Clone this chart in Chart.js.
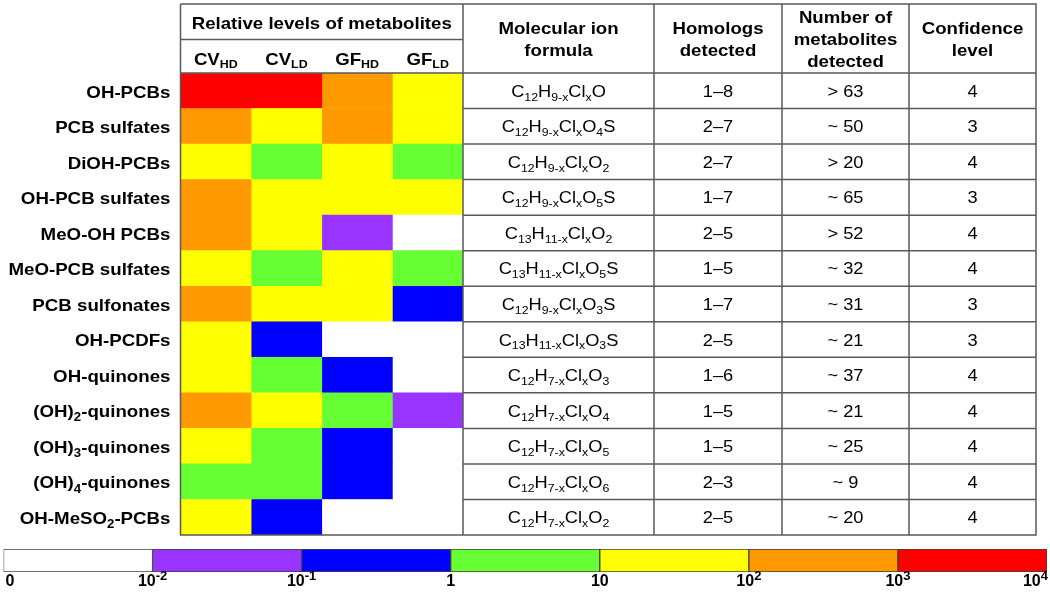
<!DOCTYPE html>
<html>
<head>
<meta charset="utf-8">
<script src="https://cdn.jsdelivr.net/npm/chart.js@4.4.1/dist/chart.umd.min.js"></script>
<style>
  html, body { margin:0; padding:0; background:#fff; }
  #wrap { position:relative; width:1050px; height:597px; }
  canvas { position:absolute; left:0; }
  #heat { top:0; }
  #scale { top:545px; }
</style>
</head>
<body>
<div id="wrap">
  <canvas id="heat" width="1050" height="545"></canvas>
  <canvas id="scale" width="1050" height="52"></canvas>
</div>
<script>
// metabolite classes (rows), _{..} = subscript, ^{..} = superscript
const rowLabels = ['OH-PCBs','PCB sulfates','DiOH-PCBs','OH-PCB sulfates','MeO-OH PCBs','MeO-PCB sulfates','PCB sulfonates','OH-PCDFs','OH-quinones','(OH)_{2}-quinones','(OH)_{3}-quinones','(OH)_{4}-quinones','OH-MeSO_{2}-PCBs'];
const colLabels = ['CV_{HD}','CV_{LD}','GF_{HD}','GF_{LD}'];

// relative level class per cell: 0 = 0, 1 = 10^-2..10^-1, ... 6 = 10^3..10^4
const cvHD = [6,5,4,5,5,4,5,4,4,5,4,3,4];
const cvLD = [6,4,3,4,4,3,4,2,3,4,3,3,2];
const gfHD = [5,5,4,4,1,4,4,0,2,3,2,2,0];
const gfLD = [4,4,3,4,0,3,2,0,0,1,0,0,0];
const levelCols = [cvHD, cvLD, gfHD, gfLD];

const levelColors = ['#ffffff','#9933ff','#0000ff','#66ff33','#ffff00','#ff9900','#ff0000'];
const scaleTicks = ['0','10^{-2}','10^{-1}','1','10','10^{2}','10^{3}','10^{4}'];

const formulas = ['C_{12}H_{9-x}Cl_{x}O','C_{12}H_{9-x}Cl_{x}O_{4}S','C_{12}H_{9-x}Cl_{x}O_{2}','C_{12}H_{9-x}Cl_{x}O_{5}S','C_{13}H_{11-x}Cl_{x}O_{2}','C_{13}H_{11-x}Cl_{x}O_{5}S','C_{12}H_{9-x}Cl_{x}O_{3}S','C_{13}H_{11-x}Cl_{x}O_{3}S','C_{12}H_{7-x}Cl_{x}O_{3}','C_{12}H_{7-x}Cl_{x}O_{4}','C_{12}H_{7-x}Cl_{x}O_{5}','C_{12}H_{7-x}Cl_{x}O_{6}','C_{12}H_{7-x}Cl_{x}O_{2}'];
const homologs = ['1–8','2–7','2–7','1–7','2–5','1–5','1–7','2–5','1–6','1–5','1–5','2–3','2–5'];
const numDetected = ['> 63','~ 50','> 20','~ 65','> 52','~ 32','~ 31','~ 21','~ 37','~ 21','~ 25','~ 9','~ 20'];
const confidence = ['4','3','4','3','4','4','3','3','4','4','4','4','4'];
const tableHeaders = [['Molecular ion','formula'],['Homologs','detected'],['Number of','metabolites','detected'],['Confidence','level']];

const FONT = '"Liberation Sans", Arial, Helvetica, sans-serif';
const LINE = '#5a5a5a';

// tiny rich-text helper for sub/superscripts
function parseRich(s){
  const out = []; const re = /([_^])\{([^}]*)\}/g; let last = 0, m;
  while((m = re.exec(s))){
    if(m.index > last) out.push({t:s.slice(last,m.index), k:'n'});
    out.push({t:m[2], k: m[1]==='_' ? 'sub' : 'sup'});
    last = re.lastIndex;
  }
  if(last < s.length) out.push({t:s.slice(last), k:'n'});
  return out;
}
function partFont(p, st){
  const size = p.k==='n' ? st.fs : Math.round(st.fs*(p.k==='sup' ? (st.supScale||0.7) : 0.68));
  return `${st.w} ${size}px ${FONT}`;
}
function richWidth(ctx, s, st){
  const raw = parseRich(s).reduce((a,p)=>{ ctx.font = partFont(p,st); return a + ctx.measureText(p.t).width; }, 0);
  return raw * (st.sx || 1);
}
function drawRich(ctx, s, x, y, align, st){
  const sx = st.sx || 1;
  const width = richWidth(ctx, s, st);
  const x0 = align==='center' ? x - width/2 : align==='right' ? x - width : x;
  ctx.save();
  ctx.translate(x0, y); ctx.scale(sx, 1);
  ctx.textAlign = 'left'; ctx.textBaseline = 'alphabetic';
  let cx = 0;
  parseRich(s).forEach(p=>{
    ctx.font = partFont(p,st);
    const dy = p.k==='sub' ? st.fs*0.24 : p.k==='sup' ? -st.fs*0.4 : 0;
    ctx.fillText(p.t, cx, dy);
    cx += ctx.measureText(p.t).width;
  });
  ctx.restore();
  return width;
}

const rowStyle = {fs:17, w:'bold', sx:1.1};
const headStyle = {fs:16.5, w:'bold', sx:1.13};
const bodyStyle = {fs:16.3, w:'normal', sx:1.12};
const tickStyle = {fs:16, w:'bold', sx:1, supScale:0.8};

// table columns to the right of the heatmap
const tableCols = [463, 654, 782, 909, 1036];
const topY = 4, subHeadY = 39.5;

const tablePlugin = {
  id:'tablePlugin',
  afterDatasetsDraw(chart){
    const {ctx, chartArea:a, scales:{x, y}} = chart;
    const half = (y.getPixelForValue(1) - y.getPixelForValue(0)) / 2;
    const bottom = y.getPixelForValue(rowLabels.length-1) + half;
    ctx.save();
    ctx.fillStyle = '#000';

    // heatmap header
    drawRich(ctx, 'Relative levels of metabolites', (a.left+a.right)/2, 28.5, 'center', headStyle);
    colLabels.forEach((c,i)=> drawRich(ctx, c, x.getPixelForValue(i+0.5), 64.5, 'center', headStyle));

    // row labels
    rowLabels.forEach((r,i)=> drawRich(ctx, r, a.left-10, y.getPixelForValue(i)+6.8, 'right', rowStyle));

    // table headers
    tableHeaders.forEach((h,c)=>{
      const cx = (tableCols[c]+tableCols[c+1])/2;
      const base = h.length===3 ? 22.5 : 34;
      const step = h.length===3 ? 22 : 21.5;
      h.forEach((line,k)=> drawRich(ctx, line, cx, base + k*step, 'center', headStyle));
    });

    // table body
    const cols = [formulas, homologs, numDetected, confidence];
    rowLabels.forEach((_,i)=>{
      const cy = y.getPixelForValue(i) + 6;
      cols.forEach((col,c)=> drawRich(ctx, col[i], (tableCols[c]+tableCols[c+1])/2, cy, 'center', bodyStyle));
    });

    // lines
    ctx.strokeStyle = LINE; ctx.lineWidth = 1.5;
    ctx.beginPath();
    // heatmap frame
    ctx.moveTo(a.left, topY); ctx.lineTo(a.left, bottom); ctx.lineTo(a.right, bottom);
    ctx.moveTo(a.left, topY); ctx.lineTo(a.right, topY);
    ctx.moveTo(a.left, subHeadY); ctx.lineTo(a.right, subHeadY);
    ctx.moveTo(a.left, a.top); ctx.lineTo(a.right, a.top);
    // table grid
    ctx.rect(tableCols[0], topY, tableCols[4]-tableCols[0], bottom-topY);
    tableCols.slice(1,4).forEach(cx=>{ ctx.moveTo(cx, topY); ctx.lineTo(cx, bottom); });
    rowLabels.forEach((_,i)=>{
      const yy = y.getPixelForValue(i) - half;
      ctx.moveTo(tableCols[0], yy); ctx.lineTo(tableCols[4], yy);
    });
    ctx.stroke();
    ctx.restore();
  }
};

new Chart(document.getElementById('heat'), {
  type:'bar',
  data:{
    labels: rowLabels,
    datasets: levelCols.map((lv,c)=>({
      label: colLabels[c],
      data: lv.map(()=>[c, c+1]),
      backgroundColor: lv.map(v=>levelColors[v]),
      borderWidth: 0,
      grouped: false,
      barPercentage: 1,
      categoryPercentage: 1
    }))
  },
  options:{
    indexAxis:'y',
    responsive:false,
    animation:false,
    devicePixelRatio:1,
    layout:{ padding:{ left:180.5, right:1050-463, top:73, bottom:10 } },
    plugins:{ legend:{display:false}, tooltip:{enabled:false} },
    scales:{
      x:{ type:'linear', min:0, max:4, display:false },
      y:{ type:'category', display:false }
    }
  },
  plugins:[tablePlugin]
});

// colour scale bar
const scalePlugin = {
  id:'scaleTicks',
  afterDatasetsDraw(chart){
    const {ctx, chartArea:a, scales:{x}} = chart;
    ctx.save();
    ctx.fillStyle = '#000';
    scaleTicks.forEach((t,i)=>{
      const w = richWidth(ctx, t, tickStyle);
      let cx = x.getPixelForValue(i);
      cx = Math.min(Math.max(cx, a.left + w/2 + 2), a.right - w/2 + 1);
      drawRich(ctx, t, cx, 41, 'center', tickStyle);
    });
    ctx.restore();
  }
};

new Chart(document.getElementById('scale'), {
  type:'bar',
  data:{
    labels:['scale'],
    datasets:[{
      data: levelColors.map((_,i)=>({y:'scale', x:[i, i+1]})),
      backgroundColor: levelColors,
      borderColor:'#404040',
      borderWidth:1,
      borderSkipped:false,
      barPercentage:1,
      categoryPercentage:1
    }]
  },
  options:{
    indexAxis:'y',
    responsive:false,
    animation:false,
    devicePixelRatio:1,
    layout:{ padding:{ left:3.5, right:3, top:4, bottom:25 } },
    plugins:{ legend:{display:false}, tooltip:{enabled:false} },
    scales:{
      x:{ type:'linear', min:0, max:7, display:false },
      y:{ type:'category', display:false }
    }
  },
  plugins:[scalePlugin]
});
</script>
</body>
</html>
